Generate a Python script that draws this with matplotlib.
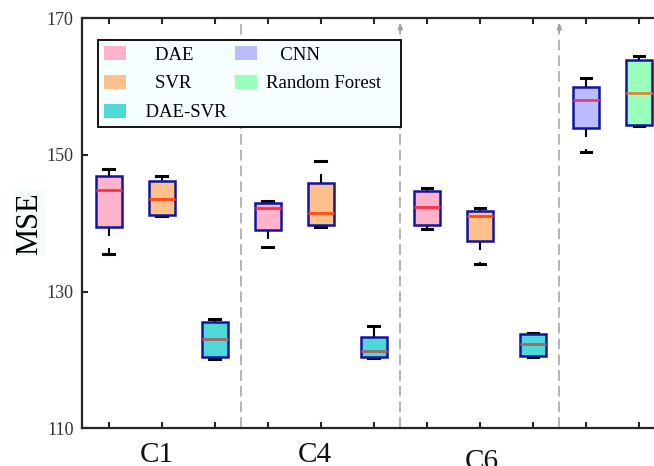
import matplotlib
matplotlib.use('Agg')
import matplotlib.pyplot as plt
from matplotlib.patches import Patch
from matplotlib import transforms

plt.rcParams['font.family'] = ['Liberation Serif', 'DejaVu Serif']

# ---------------- data ----------------
methods = ['DAE', 'SVR', 'DAE-SVR', 'CNN', 'Random Forest']
legend_labels = ['    DAE', '    SVR', '  DAE-SVR', '   CNN', 'Random Forest   ']
group_names = ['C1', 'C4', 'C6']
group_sizes = [3, 3, 3, 2]
box_method = [0, 1, 2, 0, 1, 2, 0, 1, 2, 3, 4]
whislo = [135.5, 141.0, 120.1, 136.5, 139.5, 120.3, 139.2, 134.1, 120.5, 150.5, 154.3]
q1     = [139.5, 141.2, 120.4, 139.0, 139.8, 120.5, 139.7, 137.4, 120.6, 154.0, 154.4]
med    = [144.9, 143.6, 123.0, 142.2, 141.5, 121.3, 142.4, 141.1, 122.3, 158.1, 159.0]
q3     = [146.9, 146.2, 125.6, 142.9, 145.9, 123.3, 144.8, 141.8, 123.8, 160.0, 163.9]
whishi = [147.9, 146.9, 126.0, 143.2, 149.1, 124.9, 145.1, 142.3, 124.0, 161.3, 164.5]
fill_colors = ['#ffb3cb', '#ffc08c', '#4fd8d8', '#bbbbff', '#99ffbb']
median_colors = ['#ff3048', '#ff4a10', '#a06868', '#e0407a', '#d8883c']
yticks = [110, 130, 150, 170]
ylim = (110, 170)

# ---------------- figure ----------------
fig = plt.figure(figsize=(6.54, 4.66), dpi=100)
W, H = 654, 466
ax_left, ax_top, ax_bottom = 82, 18.3, 428.3
n = len(box_method)
unit_px = 53.05
ax_w = unit_px * n
ax = fig.add_axes([ax_left / W, (H - ax_bottom) / H, ax_w / W, (ax_bottom - ax_top) / H])

positions = list(range(1, n + 1))
stats = [dict(whislo=whislo[i], q1=q1[i], med=med[i], q3=q3[i], whishi=whishi[i], fliers=[])
         for i in range(n)]

# group separators (dashed)
bounds = []
acc = 0
for s in group_sizes[:-1]:
    acc += s
    bounds.append(acc + 0.5)
for k, b in enumerate(bounds):
    ax.plot([b, b], [ylim[0], ylim[1] - 0.9], color='#a0a0a0', lw=1.1,
            ls=(0, (7, 3.3)), zorder=1)
    if k > 0:
        ax.annotate('', xy=(b, ylim[1] - 0.7), xytext=(b, ylim[1] - 2.0),
                    arrowprops=dict(arrowstyle='-|>,head_length=0.35,head_width=0.15',
                                    color='#a0a0a0', lw=1.0, shrinkA=0, shrinkB=0),
                    zorder=1)

bp = ax.bxp(stats, positions=positions, widths=0.49, patch_artist=True,
            showfliers=False, capwidths=0.2,
            boxprops=dict(edgecolor='#1414a0', linewidth=1.8),
            whiskerprops=dict(color='black', linewidth=1.5, linestyle=(0, (4.3, 5.8))),
            capprops=dict(color='black', linewidth=2.2),
            medianprops=dict(linewidth=2.0))
for i, patch in enumerate(bp['boxes']):
    patch.set_facecolor(fill_colors[box_method[i]])
    patch.set_zorder(3)
for i, m in enumerate(bp['medians']):
    m.set_color(median_colors[box_method[i]])
    m.set_zorder(4)

ax.set_xlim(0.5, n + 0.5)
ax.set_ylim(*ylim)
ax.set_yticks(yticks)
ax.set_xticks(positions)
ax.set_xticklabels([''] * n)
ax.tick_params(axis='both', which='major', direction='in', length=4.5, width=1.5,
               top=True, right=True, colors='#262626', labelsize=13, pad=6)
ax.tick_params(axis='y', labelcolor='#333333')
for sp in ax.spines.values():
    sp.set_linewidth(1.6)
    sp.set_color('#262626')

# group labels
start = 0
dxs = [-4.5, -6, 2]
dys = [-33.4, -33.4, -40.5]
for g, name in enumerate(group_names):
    center = start + (group_sizes[g] + 1) / 2.0
    start += group_sizes[g]
    tr = transforms.offset_copy(ax.get_xaxis_transform(), fig=fig, x=dxs[g], y=dys[g], units='dots')
    ax.text(center, 0, name, transform=tr, ha='center', va='baseline', fontsize=21,
            color='#111111', clip_on=False)

ax.set_ylabel('MSE', fontsize=22, labelpad=1.5,
              bbox=dict(facecolor='#f5fcfc', edgecolor='none', pad=1))

handles = [Patch(facecolor=c, edgecolor='none') for c in fill_colors]
leg = ax.legend(handles, legend_labels, ncol=2, loc='upper left',
                bbox_to_anchor=((98.3 - ax_left) / ax_w, (ax_bottom - 40) / (ax_bottom - ax_top)),
                borderaxespad=0, fontsize=13.5, frameon=True, fancybox=False,
                handlelength=1.17, handleheight=0.8, handletextpad=0.5,
                columnspacing=0.45, labelspacing=0.59, borderpad=0.32)
leg.get_frame().set_facecolor('#f5ffff')
leg.get_frame().set_edgecolor('black')
leg.get_frame().set_linewidth(1.3)
leg.get_frame().set_alpha(1)
leg.set_zorder(5)

fig.savefig('out.png', dpi=100)
